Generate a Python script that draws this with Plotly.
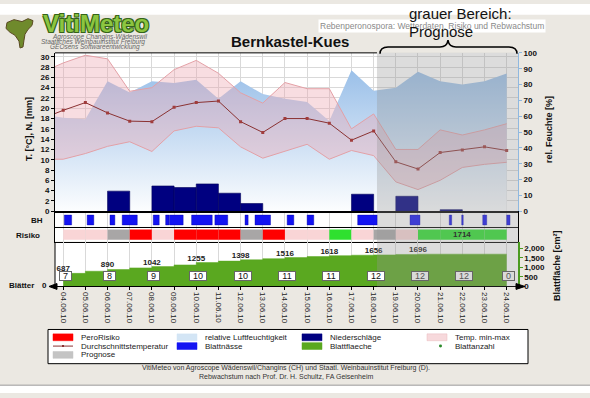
import plotly.graph_objects as go

W, H = 590, 398


def px(x):
    return x / W


def py(y):
    return 1 - y / H


# ---------------- data ----------------
# day index: -1 = 03.06.10, 0 = 04.06.10 ... 20 = 24.06.10
day_idx = [-1, 0, 1, 2, 3, 4, 5, 6, 7, 8, 9, 10, 11, 12, 13, 14, 15, 16, 17, 18, 19, 20]
temp_max = [26.9, 28.8, 30.3, 29.6, 23.3, 24.0, 27.5, 29.3, 26.8, 23.0, 21.0, 25.0,
            23.8, 23.8, 16.0, 18.9, 12.0, 12.0, 15.8, 14.8, 15.8, 17.0]
temp_min = [10.1, 10.1, 11.2, 12.6, 13.5, 11.6, 15.6, 16.5, 16.2, 12.5, 10.3, 11.7,
            13.0, 10.1, 11.8, 10.8, 5.7, 4.2, 6.0, 8.5, 9.1, 9.5]
temp_avg = [17.9, 19.6, 21.1, 19.1, 17.5, 17.4, 20.2, 21.1, 21.4, 17.4, 15.3, 18.0,
            18.0, 17.1, 13.8, 15.6, 9.6, 8.2, 11.4, 11.9, 12.5, 11.8]
humidity = [61, 59, 58, 82, 75, 82, 81, 83, 71, 82, 74, 71,
            69, 57, 89, 76, 78, 88, 82, 80, 82, 87]

tick_days = [0, 1, 2, 3, 4, 5, 6, 7, 8, 9, 10, 11, 12, 13, 14, 15, 16, 17, 18, 19, 20]
date_labels = ["04.06.10", "05.06.10", "06.06.10", "07.06.10", "08.06.10", "09.06.10",
               "10.06.10", "11.06.10", "12.06.10", "13.06.10", "14.06.10", "15.06.10",
               "16.06.10", "17.06.10", "18.06.10", "19.06.10", "20.06.10", "21.06.10",
               "22.06.10", "23.06.10", "24.06.10"]

rain_days = [2, 4, 5, 6, 7, 8, 13, 15, 17]
rain_mm = [3.9, 4.9, 4.6, 5.3, 3.5, 1.5, 3.3, 2.9, 0.3]

wet_start = [0.05, 1.08, 2.11, 2.66, 4.06, 4.62, 4.79, 5.79, 6.84, 8.20, 8.65, 10.10,
             11.00, 13.28, 15.64, 17.41, 17.97, 18.92, 20.00]
wet_end = [0.38, 1.38, 2.33, 3.34, 4.33, 4.77, 5.41, 6.72, 7.42, 8.34, 9.35, 10.40,
           11.30, 14.16, 16.09, 17.52, 18.04, 19.10, 20.15]

risk_days = [0, 1, 2, 3, 4, 5, 6, 7, 8, 9, 10, 11, 12, 13, 14, 15, 16, 17, 18, 19]
risk_class = ["none", "none", "grey", "red", "none", "red", "red", "red", "grey", "red",
              "none", "none", "green", "none", "grey", "none", "green", "green", "green", "green"]
risk_label_day = 18
risk_label = "1714"

leaf_area_days = [0, 1, 2, 3, 4, 5, 6, 7, 8, 9, 10, 11, 12, 13, 14, 15, 16, 17, 18, 19, 20]
leaf_area = [687, 800, 890, 975, 1042, 1130, 1255, 1330, 1398, 1460, 1516, 1570,
             1618, 1640, 1656, 1680, 1696, 1696, 1696, 1696, 1696]
leaf_label_days = [0, 2, 4, 6, 8, 10, 12, 14, 16]
leaf_label_vals = [687, 890, 1042, 1255, 1398, 1516, 1618, 1656, 1696]
leaf_count_days = [0, 2, 4, 6, 8, 10, 12, 14, 16, 18, 20]
leaf_count = [7, 8, 9, 10, 10, 11, 11, 12, 12, 12, 0]

forecast_start = 14.15

legend_labels = ["PeroRisiko", "relative Luftfeuchtigkeit", "Niederschläge", "Temp. min-max",
                 "Durchschnittstemperatur", "Blattnässe", "Blattflaeche", "Blattanzahl",
                 "Prognose"]

# ---------------- styling ----------------
X0, X1 = -0.37, 20.51
FONT = "Arial, Liberation Sans, sans-serif"
BOLD8 = dict(family=FONT, size=8, color="#111", weight="bold")
GRID = "#d9d9d9"
PINK = "#e3a0a6"
GREEN = "#5aa820"
risk_colors = {"none": "#f9d5d6", "grey": "#a8a6a6", "red": "#ff0000", "green": "#2fe02f"}

fig = go.Figure()

# relative humidity (base subplot, right axis)
fig.add_trace(go.Scatter(
    x=day_idx, y=humidity, xaxis="x", yaxis="y", mode="lines",
    line=dict(width=0, color="rgba(0,0,0,0)"), fill="tozeroy",
    fillgradient=dict(type="vertical", start=0, stop=100,
                      colorscale=[[0, "rgb(255,255,255)"], [1, "rgb(142,184,230)"]]),
    hoverinfo="skip", showlegend=False))

# temperature band
fig.add_trace(go.Scatter(x=day_idx, y=temp_min, xaxis="x", yaxis="y2", mode="lines",
                         line=dict(color=PINK, width=1), showlegend=False))
fig.add_trace(go.Scatter(x=day_idx, y=temp_max, xaxis="x", yaxis="y2", mode="lines",
                         line=dict(color=PINK, width=1), fill="tonexty",
                         fillcolor="rgba(236,166,176,0.38)", showlegend=False))
# mean temperature
fig.add_trace(go.Scatter(x=day_idx, y=temp_avg, xaxis="x", yaxis="y2", mode="lines+markers",
                         line=dict(color="#8a3232", width=1),
                         marker=dict(symbol="square", size=3, color="#a03c3c"),
                         showlegend=False))
# precipitation
fig.add_trace(go.Bar(x=rain_days, y=rain_mm, xaxis="x", yaxis="y3", width=1, offset=0,
                     marker=dict(color="#000080", line=dict(color="#00005a", width=0.6)),
                     showlegend=False))

# leaf wetness row
fig.add_trace(go.Bar(x=wet_start, y=[0.72] * len(wet_start), base=0.14,
                     width=[e - s for s, e in zip(wet_start, wet_end)], offset=0,
                     xaxis="x2", yaxis="y4",
                     marker=dict(color="#1414f2", line=dict(color="#0000a0", width=0.4)),
                     showlegend=False))

# risk row
fig.add_trace(go.Bar(x=risk_days, y=[0.74] * len(risk_days), base=0.13, width=1, offset=0,
                     xaxis="x3", yaxis="y5",
                     marker=dict(color=[risk_colors[c] for c in risk_class], line=dict(width=0)),
                     showlegend=False))

# leaf area
fig.add_trace(go.Scatter(x=leaf_area_days, y=leaf_area, xaxis="x4", yaxis="y6", mode="lines",
                         line=dict(shape="hv", color=GREEN, width=0.5), fill="tozeroy",
                         fillcolor=GREEN, showlegend=False))
fig.add_trace(go.Scatter(x=leaf_label_days, y=leaf_label_vals, xaxis="x4", yaxis="y6",
                         mode="text", text=[str(v) for v in leaf_label_vals],
                         textposition="top center",
                         textfont=dict(family=FONT, size=8, color="#222", weight="bold"),
                         showlegend=False))

# ---------------- axes ----------------
xdom = [px(55), px(518)]
xcommon = dict(domain=xdom, range=[X0, X1], showgrid=True, gridcolor=GRID, gridwidth=1,
               tick0=0, dtick=1, zeroline=False, showticklabels=False, ticks="")

layout = dict(
    width=W, height=H, autosize=False, margin=dict(l=0, r=0, t=0, b=0),
    paper_bgcolor="#ebe8e2", plot_bgcolor="white", barmode="overlay", showlegend=False,
    font=dict(family=FONT, size=8, color="#111"),
    xaxis=dict(**xcommon, anchor="y", showline=True, linecolor="black", linewidth=1),
    xaxis2=dict(**xcommon, anchor="y4", showline=True, mirror=True, linecolor="black"),
    xaxis3=dict(**xcommon, anchor="y5", showline=True, mirror=True, linecolor="black"),
    xaxis4=dict(domain=xdom, range=[X0, X1], anchor="y6", showgrid=True, gridcolor=GRID,
                tickmode="array", tickvals=tick_days, ticktext=date_labels, tickangle=90,
                ticks="outside", ticklen=3, tickcolor="black", showline=True,
                linecolor="black", zeroline=False,
                tickfont=dict(family=FONT, size=8, color="#222")),
    yaxis=dict(domain=[py(212), py(50)], range=[0, 100], side="right", anchor="x",
               tick0=0, dtick=10, ticks="outside", ticklen=3, tickcolor="#8fb8e0",
               showline=True, linecolor="#8fb8e0", showgrid=False, zeroline=False,
               tickfont=BOLD8),
    yaxis2=dict(overlaying="y", side="left", anchor="x", range=[0, 30.76], tick0=0, dtick=2,
                ticks="outside", ticklen=3, tickcolor="black", showline=True,
                linecolor="black", showgrid=True, gridcolor=GRID, zeroline=False,
                tickfont=BOLD8),
    yaxis3=dict(overlaying="y", range=[0, 30.76], visible=False),
    yaxis4=dict(domain=[py(228), py(214)], range=[0, 1], anchor="x2", showticklabels=False,
                ticks="", showgrid=False, zeroline=False, showline=True, mirror=True,
                linecolor="black"),
    yaxis5=dict(domain=[py(243), py(229)], range=[0, 1], anchor="x3", showticklabels=False,
                ticks="", showgrid=False, zeroline=False, showline=True, mirror=True,
                linecolor="black"),
    yaxis6=dict(domain=[py(289), py(244)], range=[0, 2308], anchor="x4", side="right",
                tickmode="array", tickvals=[0, 500, 1000, 1500, 2000], tickformat=",",
                ticks="outside", ticklen=3, tickcolor="#4a9a20", showline=True,
                linecolor="#4a9a20", linewidth=1.5, showgrid=False, zeroline=False,
                tickfont=BOLD8),
)
fig.update_layout(**layout)

# ---------------- shapes ----------------
shapes = []
# white strips top and bottom
shapes.append(dict(type="rect", xref="paper", yref="paper", x0=0, x1=1, y0=py(11), y1=1,
                   fillcolor="white", line=dict(width=0), layer="below"))
shapes.append(dict(type="rect", xref="paper", yref="paper", x0=0, x1=1, y0=0, y1=py(390),
                   fillcolor="white", line=dict(width=0), layer="below"))
shapes.append(dict(type="line", xref="paper", yref="paper", x0=0, x1=1, y0=py(390),
                   y1=py(390), line=dict(color="#9a9a9a", width=1)))
# forecast grey overlay
shapes.append(dict(type="rect", xref="x", yref="paper", x0=forecast_start, x1=X1,
                   y0=py(289), y1=py(50), fillcolor="rgba(150,150,150,0.33)",
                   line=dict(width=0), layer="above"))
# top border of main plot (up to forecast)
shapes.append(dict(type="line", xref="x", yref="paper", x0=X0, x1=forecast_start,
                   y0=py(50), y1=py(50), line=dict(color="black", width=1)))
# left line of leaves panel
shapes.append(dict(type="line", xref="x4 domain", yref="y6 domain", x0=0, x1=0, y0=0, y1=1,
                   line=dict(color="black", width=1)))


def path_from(cmds):
    out = []
    for c in cmds:
        if isinstance(c, str):
            out.append(c)
        else:
            out.append(f"{px(c[0]):.5f},{py(c[1]):.5f}")
    return " ".join(out)


def polygon(points):
    cmds = ["M", points[0]]
    for p in points[1:]:
        cmds += ["L", p]
    cmds.append("Z")
    return path_from(cmds)


# curly brace over the forecast area
brace = ["M", (380, 51), "Q", (380, 44), (388, 44), "L", (440, 44), "Q", (447, 44), (448, 37),
         "Q", (449, 44), (456, 44), "L", (509, 44), "Q", (517, 44), (517, 51)]
shapes.append(dict(type="path", xref="paper", yref="paper", path=path_from(brace),
                   line=dict(color="black", width=1.5)))

# axis arrow heads of the leaves panel
shapes.append(dict(type="path", xref="paper", yref="paper",
                   path=polygon([(516, 286), (525, 289), (516, 292)]),
                   fillcolor="black", line=dict(color="black", width=1)))
shapes.append(dict(type="path", xref="paper", yref="paper",
                   path=polygon([(57, 286), (49, 289), (57, 292)]),
                   fillcolor="black", line=dict(color="black", width=1)))

# logo leaf
leaf_pts = [(7, 19), (14, 16), (22, 18), (28, 15), (33, 17), (32, 22), (28, 26),
            (25, 31), (24, 37), (23, 44), (20, 45), (19, 38), (15, 32), (10, 29), (6, 25)]
shapes.append(dict(type="path", xref="paper", yref="paper", path=polygon(leaf_pts),
                   fillcolor="#6f8a2c", line=dict(color="#5a4a22", width=1)))

# legend box
shapes.append(dict(type="rect", xref="paper", yref="paper", x0=px(48), x1=px(528),
                   y0=py(368), y1=py(333), fillcolor="white", line=dict(color="black", width=1)))

col_sw = [53, 177, 302, 427]
col_tx = [79, 203, 328, 453]
row_y = [341, 350, 359]


def swatch(col, row, color, line_color=None):
    shapes.append(dict(type="rect", xref="paper", yref="paper",
                       x0=px(col_sw[col]), x1=px(col_sw[col] + 20),
                       y0=py(row_y[row] + 3.5), y1=py(row_y[row] - 3.5),
                       fillcolor=color, line=dict(color=line_color or color, width=0.5)))


swatch(0, 0, "#ff0000")
swatch(1, 0, "#d3e5f5")
swatch(2, 0, "#000080")
swatch(3, 0, "#f7d9dc", "#eab8bd")
shapes.append(dict(type="line", xref="paper", yref="paper", x0=px(col_sw[0]),
                   x1=px(col_sw[0] + 20), y0=py(row_y[1]), y1=py(row_y[1]),
                   line=dict(color="#8a3232", width=1)))
shapes.append(dict(type="rect", xref="paper", yref="paper", x0=px(col_sw[0] + 9),
                   x1=px(col_sw[0] + 11), y0=py(row_y[1] + 1), y1=py(row_y[1] - 1),
                   fillcolor="#8a3232", line=dict(width=0)))
swatch(1, 1, "#1414f2")
swatch(2, 1, GREEN)
shapes.append(dict(type="circle", xref="paper", yref="paper", x0=px(439), x1=px(442),
                   y0=py(row_y[1] + 1.5), y1=py(row_y[1] - 1.5), fillcolor="#2a8a2a",
                   line=dict(width=0)))
swatch(0, 2, "#c4c4c4")

fig.update_layout(shapes=shapes)

# ---------------- annotations ----------------
ann = []


def text(x, y, s, size=8, color="#111", bold=False, italic=False, anchor="center", **kw):
    f = dict(family=FONT, size=size, color=color)
    if bold:
        f["weight"] = "bold"
    if italic:
        f["style"] = "italic"
    d = dict(xref="paper", yref="paper", x=px(x), y=py(y), text=s, showarrow=False,
             xanchor=anchor, yanchor="middle", font=f)
    d.update(kw)
    ann.append(d)


# logo
outline = ("-1px -1px 0 #35631a, 1px -1px 0 #35631a, -1px 1px 0 #35631a, "
           "1px 1px 0 #35631a")
ann.append(dict(xref="paper", yref="paper", x=px(96), y=py(20), text="VitiMeteo",
                showarrow=False, xanchor="center", yanchor="middle",
                font=dict(family=FONT, size=24, color="#8cc540", weight="bold",
                          shadow=outline)))
text(99, 34, "Agroscope Changins-Wädenswil", size=6.5, color="#666", italic=True)
text(93, 39, "Staatliches Weinbauinstitut Freiburg", size=6.5, color="#666", italic=True)
text(95, 44, "GEOsens Softwareentwicklung", size=6.5, color="#666", italic=True)

# header texts
text(432, 23, "Rebenperonospora: Wetterdaten, Risiko und Rebwachstum", size=8.5,
     color="#8a8a8a", bgcolor="white", borderpad=1)
text(290, 38, "Bernkastel-Kues", size=15, color="#111", bold=True)
text(407, 10, "grauer Bereich:", size=15, color="#111", anchor="left")
text(407, 28, "Prognose", size=15, color="#111", anchor="left")

# axis titles / row labels
text(29, 128, "T. [°C], N. [mm]", size=9, bold=True, textangle=-90)
text(549, 129, "rel. Feuchte [%]", size=9, bold=True, textangle=-90)
text(557, 268, "Blattfläche [cm²]", size=9, bold=True, textangle=-90)
text(37, 221, "BH", size=8, bold=True)
text(28, 237, "Risiko", size=8, bold=True)
text(21, 288, "Blätter", size=8, bold=True)
text(44, 288, "0", size=8, bold=True)

# risk label
ann.append(dict(xref="x3", yref="y5", x=risk_label_day, y=0.5, text=risk_label,
                showarrow=False, font=dict(family=FONT, size=8, color="#333", weight="bold")))

# leaf counts
for d, n in zip(leaf_count_days, leaf_count):
    fc = d >= forecast_start
    ann.append(dict(xref="x4", yref="y6 domain", x=d, y=0.12, xshift=2, text=str(n),
                    width=5 * len(str(n)) + 6, height=8,
                    showarrow=False, bgcolor="#d9d9d9" if fc else "white",
                    bordercolor="#666", borderwidth=1, borderpad=0,
                    font=dict(family=FONT, size=9, color="#555" if fc else "#111")))

# legend texts
legend_pos = [(0, 0), (1, 0), (2, 0), (3, 0), (0, 1), (1, 1), (2, 1), (3, 1), (0, 2)]
for lab, (c, r) in zip(legend_labels, legend_pos):
    text(col_tx[c], row_y[r], lab, size=8, color="#222", anchor="left")

# footer
text(286, 372, "VitiMeteo von Agroscope Wädenswil/Changins (CH) und Staatl. Weinbauinstitut "
     "Freiburg (D).", size=7, color="#333")
text(286, 381, "Rebwachstum nach Prof. Dr. H. Schultz, FA Geisenheim", size=7, color="#333")

fig.update_layout(annotations=ann)

fig.write_html("out.html", config={"displayModeBar": False},
               post_script="document.body.style.margin='0px';"
                           "document.body.style.overflow='hidden';")
